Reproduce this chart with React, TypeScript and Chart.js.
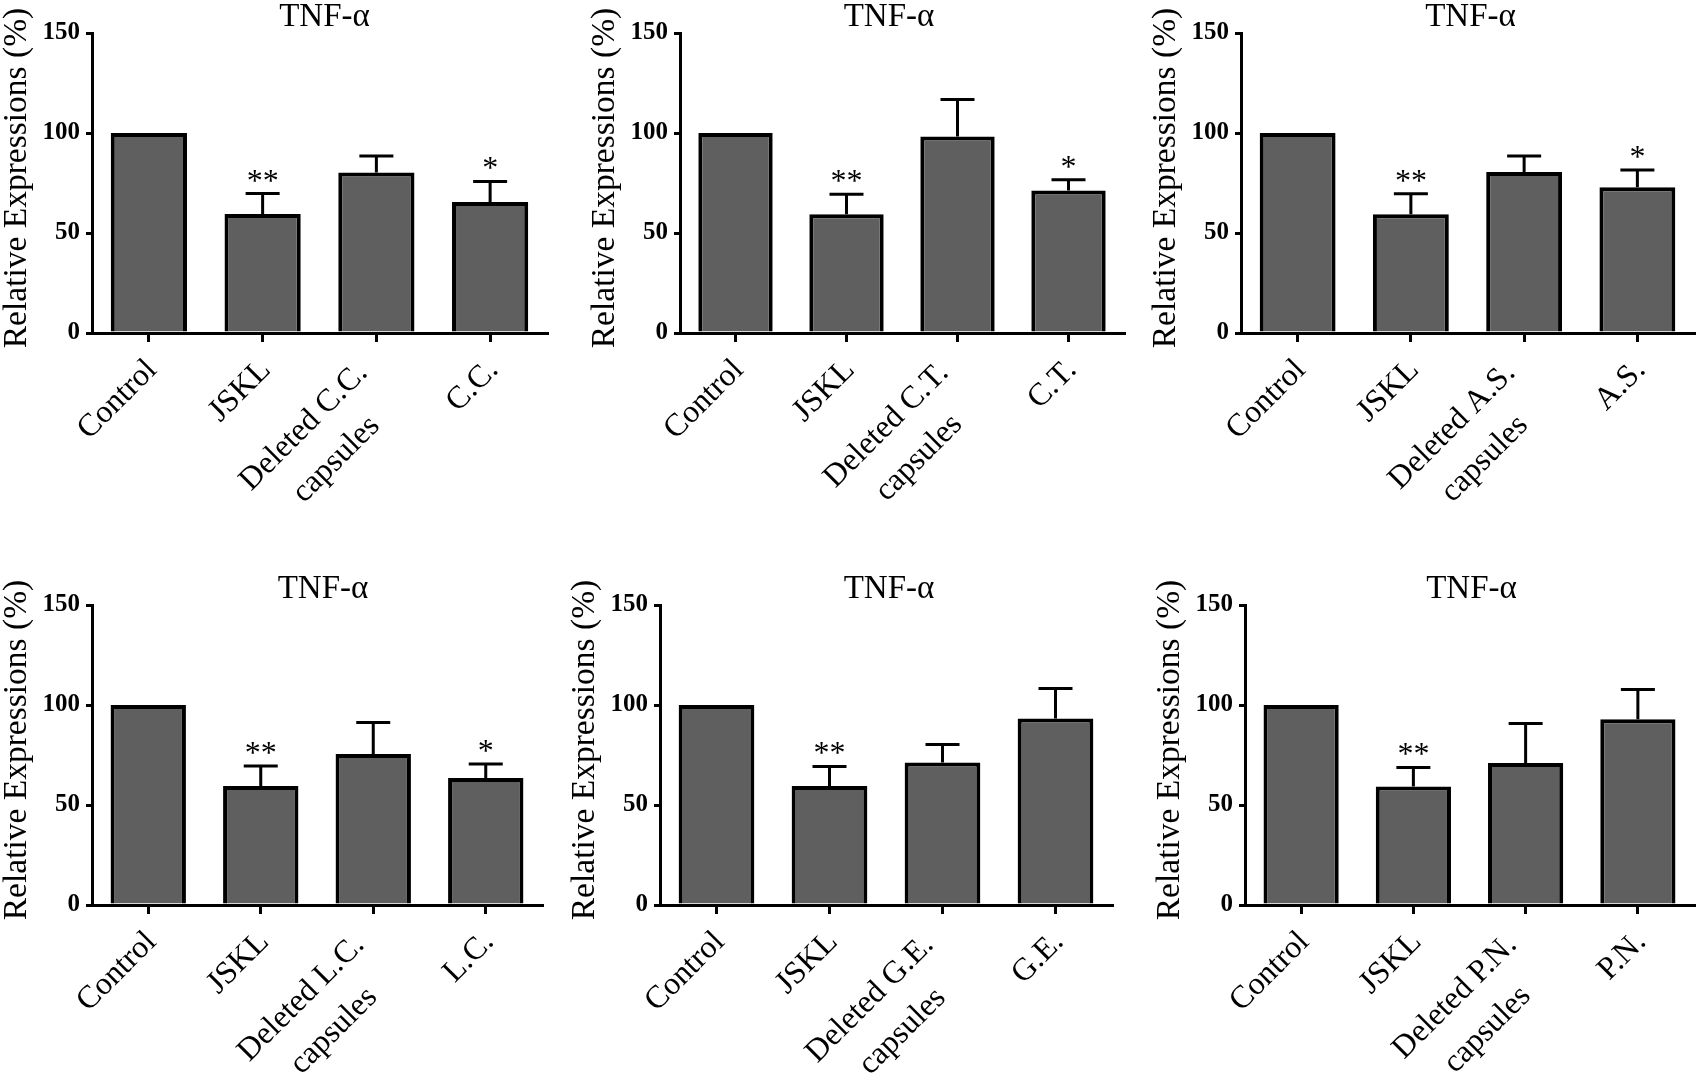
import React, { useEffect, useRef } from 'react';
import { Chart, registerables } from 'chart.js';

Chart.register(...registerables);

const FONT = "'Liberation Serif', 'Times New Roman', Times, serif";

// ---- data ----
const chartTitle = 'TNF-α';
const yAxisTitle = 'Relative Expressions (%)';
const yTickStep = 50;
const yMax = 150;

const labelsCC = ['Control', 'JSKL', ['Deleted C.C.', 'capsules'], 'C.C.'];
const meansCC = [100, 59.5, 80.2, 65.5];
const errsCC = [0, 10.2, 8.3, 10.3];
const starsCC = ['', '**', '', '*'];

const labelsCT = ['Control', 'JSKL', ['Deleted C.T.', 'capsules'], 'C.T.'];
const meansCT = [100, 59.4, 98.3, 71.2];
const errsCT = [0, 10, 18.4, 5.4];
const starsCT = ['', '**', '', '*'];

const labelsAS = ['Control', 'JSKL', ['Deleted A.S.', 'capsules'], 'A.S.'];
const meansAS = [100, 59.4, 80.5, 72.9];
const errsAS = [0, 10.2, 8, 8.6];
const starsAS = ['', '**', '', '*'];

const labelsLC = ['Control', 'JSKL', ['Deleted L.C.', 'capsules'], 'L.C.'];
const meansLC = [100, 59.5, 75.5, 63.5];
const errsLC = [0, 10, 15.7, 7];
const starsLC = ['', '**', '', '*'];

const labelsGE = ['Control', 'JSKL', ['Deleted G.E.', 'capsules'], 'G.E.'];
const meansGE = [100, 59.5, 71.3, 93.2];
const errsGE = [0, 9.8, 9, 15];
const starsGE = ['', '**', '', ''];

const labelsPN = ['Control', 'JSKL', ['Deleted P.N.', 'capsules'], 'P.N.'];
const meansPN = [100, 59.2, 71, 92.9];
const errsPN = [0, 9.6, 19.7, 14.9];
const starsPN = ['', '**', '', ''];

// ---- layout (page coords of each plot area) ----
const Y_AXIS_W = 92;
const TOP_PAD = 33;
const RIGHT_PAD = 6;

type Panel = {
  labels: (string | string[])[];
  means: number[];
  errs: number[];
  stars: string[];
  left: number;
  right: number;
  top: number;
  bottom: number;
  canvasH: number;
  titleDx: number;
};

const panels: Panel[] = [
  { labels: labelsCC, means: meansCC, errs: errsCC, stars: starsCC, left: 92, right: 547, top: 33, bottom: 333, canvasH: 540, titleDx: 5 },
  { labels: labelsCT, means: meansCT, errs: errsCT, stars: starsCT, left: 680, right: 1124, top: 33, bottom: 333, canvasH: 540, titleDx: -13 },
  { labels: labelsAS, means: meansAS, errs: errsAS, stars: starsAS, left: 1241, right: 1694, top: 33, bottom: 333, canvasH: 540, titleDx: 3 },
  { labels: labelsLC, means: meansLC, errs: errsLC, stars: starsLC, left: 92, right: 542, top: 605, bottom: 905, canvasH: 509, titleDx: 6 },
  { labels: labelsGE, means: meansGE, errs: errsGE, stars: starsGE, left: 660, right: 1112, top: 605, bottom: 905, canvasH: 509, titleDx: 3 },
  { labels: labelsPN, means: meansPN, errs: errsPN, stars: starsPN, left: 1245, right: 1694, top: 605, bottom: 905, canvasH: 509, titleDx: 2 },
];

const LABEL_FONT = 32;
const LABEL_LH = 46;

function makeOverlay(p: Panel) {
  return {
    id: 'overlay',
    afterDraw(chart: any) {
      const { ctx, chartArea } = chart;
      const xs = chart.scales.x;
      const ys = chart.scales.y;
      ctx.save();
      ctx.fillStyle = '#000';
      ctx.strokeStyle = '#000';

      // title
      ctx.font = `33px ${FONT}`;
      ctx.textAlign = 'center';
      ctx.textBaseline = 'middle';
      ctx.fillText(chartTitle, (chartArea.left + chartArea.right) / 2 + p.titleDx, chartArea.top - 16);

      // y axis title
      ctx.save();
      ctx.font = `33.5px ${FONT}`;
      ctx.translate(chartArea.left - 75, (chartArea.top + chartArea.bottom) / 2 - 5);
      ctx.rotate(-Math.PI / 2);
      ctx.fillText(yAxisTitle, 0, 0);
      ctx.restore();

      // error bars + stars
      ctx.lineWidth = 3;
      ctx.lineCap = 'butt';
      p.means.forEach((m, i) => {
        const x = xs.getPixelForValue(i);
        const yb = ys.getPixelForValue(m);
        const yt = ys.getPixelForValue(m + p.errs[i]);
        if (p.errs[i] > 0) {
          ctx.beginPath();
          ctx.moveTo(x, yb);
          ctx.lineTo(x, yt);
          ctx.moveTo(x - 17, yt);
          ctx.lineTo(x + 17, yt);
          ctx.stroke();
        }
        if (p.stars[i]) {
          ctx.font = `32px ${FONT}`;
          ctx.textAlign = 'center';
          ctx.textBaseline = 'alphabetic';
          ctx.fillText(p.stars[i], x, yt - 3);
        }
      });

      // rotated category labels, lines centred within the block
      ctx.font = `${LABEL_FONT}px ${FONT}`;
      ctx.textAlign = 'center';
      ctx.textBaseline = 'middle';
      p.labels.forEach((lab, i) => {
        const lines = Array.isArray(lab) ? lab : [lab];
        const n = lines.length;
        const W = Math.max(...lines.map((l) => ctx.measureText(l).width));
        const x = xs.getPixelForValue(i);
        ctx.save();
        ctx.translate(x - 13 - 17 * (n - 1), chartArea.bottom + 16 + 3 * (n - 1));
        ctx.rotate(-Math.PI / 4);
        lines.forEach((l, j) => ctx.fillText(l, -W / 2, LABEL_LH / 2 + j * LABEL_LH));
        ctx.restore();
      });
      ctx.restore();
    },
  };
}

function PanelChart({ p }: { p: Panel }) {
  const ref = useRef<HTMLCanvasElement>(null);
  const canvasW = p.right - p.left + Y_AXIS_W + RIGHT_PAD;
  const xAxisH = p.canvasH - TOP_PAD - (p.bottom - p.top);
  useEffect(() => {
    if (!ref.current) return;
    const chart = new Chart(ref.current, {
      type: 'bar',
      data: {
        labels: p.labels.map((l) => (Array.isArray(l) ? l.join(' ') : l)),
        datasets: [
          {
            data: p.means,
            backgroundColor: '#5f5f5f',
            borderColor: '#000',
            borderWidth: 4,
            categoryPercentage: 1,
            barPercentage: 0.67,
          },
        ],
      },
      options: {
        animation: false,
        responsive: false,
        maintainAspectRatio: false,
        devicePixelRatio: 1,
        layout: { padding: { top: TOP_PAD, right: RIGHT_PAD, left: 0, bottom: 0 } },
        plugins: { legend: { display: false }, tooltip: { enabled: false }, title: { display: false } },
        scales: {
          x: {
            offset: true,
            grid: { display: true, drawOnChartArea: false, drawTicks: true, tickLength: 9, color: '#000', lineWidth: 3, offset: false },
            border: { display: true, color: '#000', width: 3 },
            ticks: { display: false },
            afterFit: (s: any) => {
              s.height = xAxisH;
            },
          },
          y: {
            min: 0,
            max: yMax,
            ticks: { stepSize: yTickStep, color: '#000', padding: 6, font: { family: FONT, size: 25, weight: 'bold' } },
            grid: { drawOnChartArea: false, drawTicks: true, tickLength: 6, color: '#000', lineWidth: 3 },
            border: { display: true, color: '#000', width: 3 },
            title: { display: false },
            afterFit: (s: any) => {
              s.width = Y_AXIS_W;
            },
          },
        },
      } as any,
      plugins: [makeOverlay(p)],
    });
    return () => chart.destroy();
  }, []);
  return (
    <canvas
      ref={ref}
      width={canvasW}
      height={p.canvasH}
      style={{ position: 'absolute', left: p.left - Y_AXIS_W, top: p.top - TOP_PAD, width: canvasW, height: p.canvasH }}
    />
  );
}

export default function App() {
  return (
    <div style={{ position: 'absolute', left: 0, top: 0, width: 1701, height: 1081, background: '#fff', overflow: 'hidden' }}>
      {panels.map((p, i) => (
        <PanelChart key={i} p={p} />
      ))}
    </div>
  );
}
